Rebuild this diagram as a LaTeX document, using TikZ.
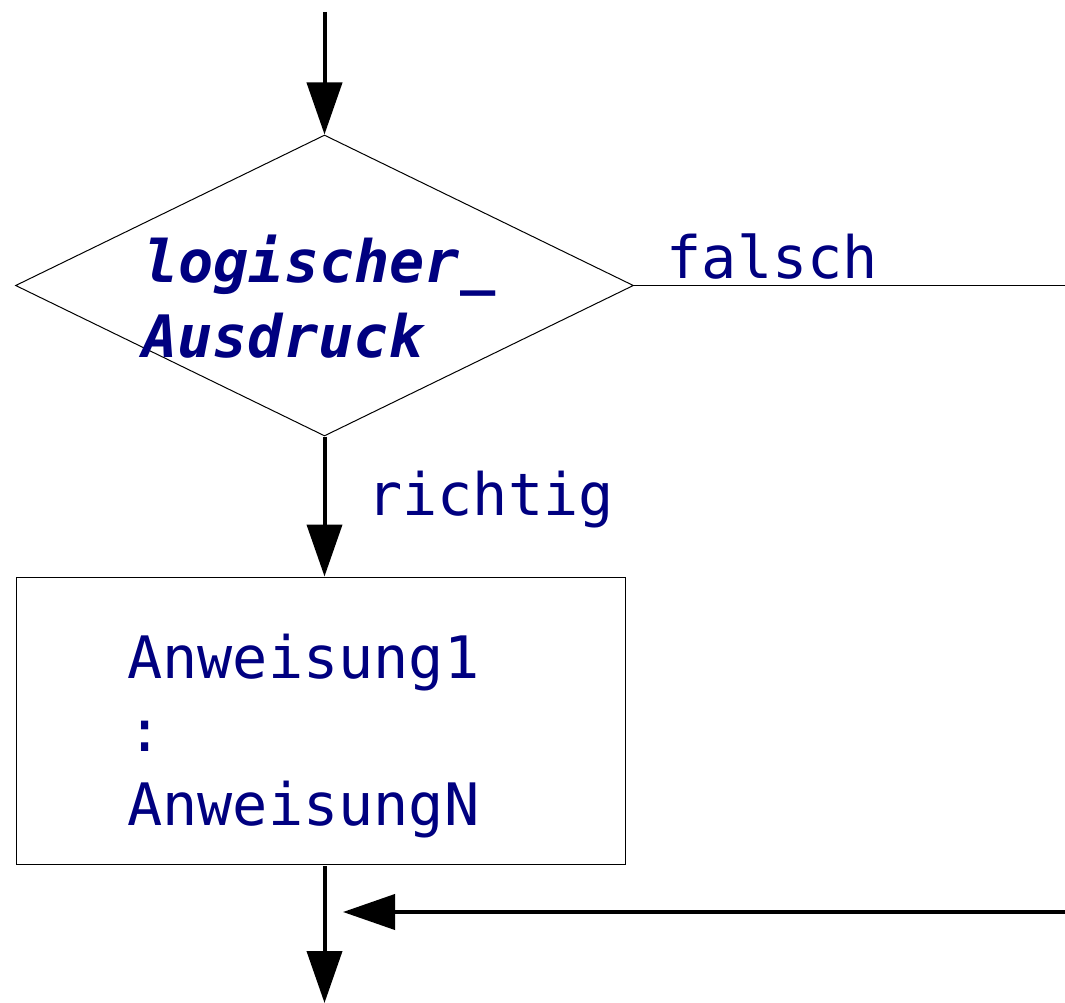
\documentclass[tikz,border=0pt]{standalone}
\usepackage{fontspec}
\setmonofont{DejaVu Sans Mono}
\usetikzlibrary{arrows.meta,shapes.geometric}
\definecolor{txtblue}{RGB}{0,0,128}
\begin{document}
\begin{tikzpicture}[x=1pt,y=-1pt,
  outline/.style={draw, line width=1pt, inner sep=0pt},
  flow/.style={line width=4pt,-{Triangle[length=52pt,width=35pt]}},
  thinline/.style={line width=1pt},
  lbl/.style={font=\fontsize{58.5}{74}\selectfont\ttfamily, text=txtblue, inner sep=0pt, anchor=base west},
  boldlbl/.style={lbl, font=\fontsize{58.5}{74}\selectfont\ttfamily\bfseries\itshape},
]
\useasboundingbox (0,0) rectangle (1065,1003);
% shapes
\node[outline, diamond, minimum width=618pt, minimum height=301pt] (dec) at (324.5,285.5) {};
\node[outline, rectangle, minimum width=609pt, minimum height=287pt] (box) at (320.5,720.5) {};
% texts
\node[boldlbl] (cond1) at (143,282) {logischer\_};
\node[boldlbl] (cond2) at (142,357) {Ausdruck};
\node[lbl] (fls) at (666.5,278) {falsch};
\node[lbl] (rcht) at (367,515) {richtig};
\node[lbl] (a1) at (127,678) {Anweisung1};
\node[lbl] (dots) at (127,751) {:};
\node[lbl] (aN) at (127,825) {AnweisungN};
% connector ends
\coordinate (start) at (324.5,12);
\coordinate (fend) at (1065,285.5);
\coordinate (outb) at (324.5,866);
\coordinate (endp) at (324.5,1003);
\coordinate (ret) at (1065,912);
\coordinate (join) at (343,912);
% connectors
\draw[flow] (start) -- (dec.north);
\draw[thinline] (dec.east) -- (fend);
\draw[flow] (dec.south) -- (dec.south |- box.north);
\draw[flow] (outb) -- (endp);
\draw[flow] (ret) -- (join);
\end{tikzpicture}
\end{document}
